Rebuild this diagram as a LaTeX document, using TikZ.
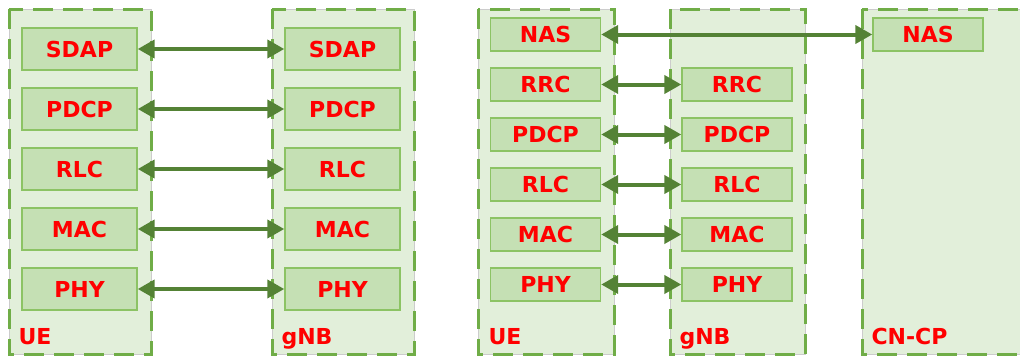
\documentclass[tikz,border=0pt]{standalone}
\usepackage{fontspec}
\setmainfont{DejaVu Sans}
\usetikzlibrary{arrows.meta}
\definecolor{stackfill}{RGB}{226,239,218}
\definecolor{stackline}{RGB}{112,173,71}
\definecolor{layerfill}{RGB}{197,224,180}
\definecolor{layerline}{RGB}{140,195,100}
\definecolor{peercolor}{RGB}{84,130,53}

\begin{document}
\begin{tikzpicture}[
  x=1pt, y=-1pt,
  every node/.append style={font=\bfseries\fontsize{22}{26}\selectfont, text=red},
  stackbox/.style={draw=stackline, line width=3pt, dash pattern=on 20pt off 10pt,
    preaction={fill=stackfill, draw=black!20, line width=0.8pt}},
  layer/.style={draw=layerline, fill=layerfill, line width=1.4pt, inner sep=0pt},
  peer/.style={{Triangle[length=17pt,width=18pt]}-{Triangle[length=17pt,width=18pt]},
    line width=4pt, draw=peercolor},
]
\useasboundingbox (0,0) rectangle (1020,356);

% ---------- left: user plane ----------
\draw[stackbox] (9,9) rectangle (151,354);
\draw[stackbox] (272,9) rectangle (414,354);
\node[anchor=base west] (lue) at (15,344) {UE};
\node[anchor=base west] (lgnb) at (278,344) {gNB};

\foreach \name [count=\i from 0] in {SDAP,PDCP,RLC,MAC,PHY} {
  \node[layer, minimum width=115pt, minimum height=42pt] (lue\name) at (79.5,{49+60*\i}) {\name};
  \node[layer, minimum width=115pt, minimum height=42pt] (lgnb\name) at (342.5,{49+60*\i}) {\name};
  \draw[peer] (lue\name) -- (lgnb\name);
}

% ---------- right: control plane ----------
\draw[stackbox] (478,9) rectangle (614,354);
\draw[stackbox] (670,9) rectangle (805,354);
\draw[stackbox] (862,9) rectangle (1030,354);
\node[anchor=base west] (rue) at (485,344) {UE};
\node[anchor=base west] (rgnb) at (676,344) {gNB};
\node[anchor=base west] (cn) at (868,344) {CN-CP};

\node[layer, minimum width=110pt, minimum height=33pt] (rueNAS) at (545.5,34.5) {NAS};
\node[layer, minimum width=110pt, minimum height=33pt] (cnNAS) at (928,34.5) {NAS};
\draw[peer] (rueNAS) -- (cnNAS);

\foreach \name [count=\i from 1] in {RRC,PDCP,RLC,MAC,PHY} {
  \node[layer, minimum width=110pt, minimum height=33pt] (rue\name) at (545.5,{34.5+50*\i}) {\name};
  \node[layer, minimum width=110pt, minimum height=33pt] (rgnb\name) at (737,{34.5+50*\i}) {\name};
  \draw[peer] (rue\name) -- (rgnb\name);
}

\end{tikzpicture}
\end{document}
